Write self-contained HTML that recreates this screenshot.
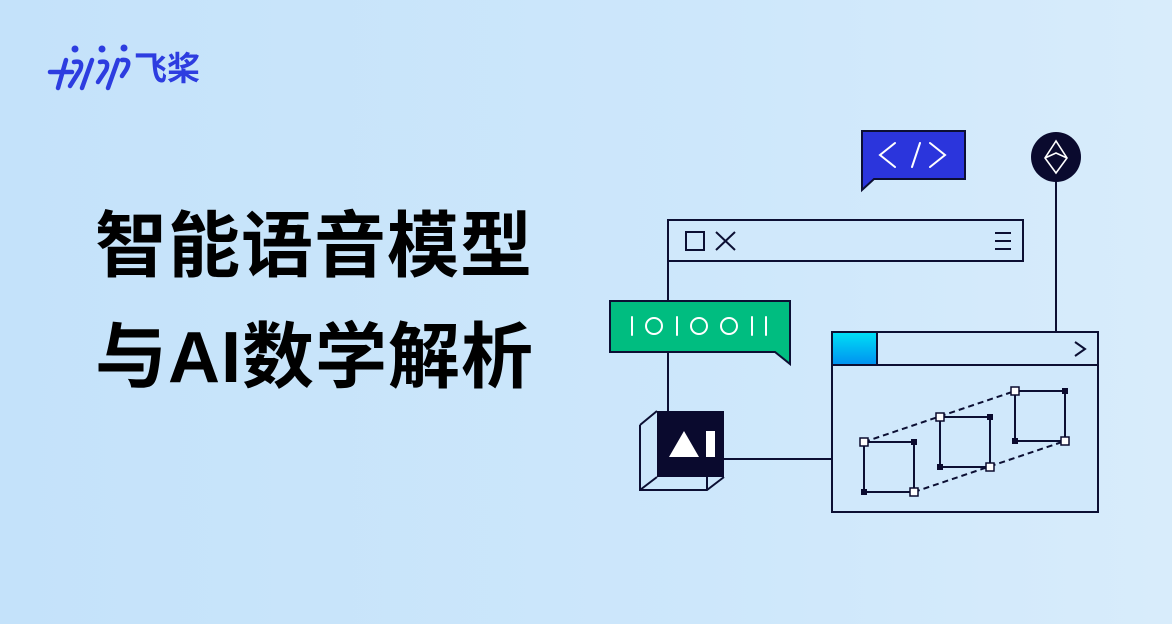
<!DOCTYPE html>
<html><head><meta charset="utf-8"><style>
html,body{margin:0;padding:0}
body{width:1172px;height:624px;overflow:hidden;position:relative;background:linear-gradient(90deg,#c4e2fa 0%,#cde7fb 60%,#d8ecfb 100%);font-family:"Liberation Sans","Noto Sans CJK SC",sans-serif}
.t{position:absolute;left:95px;font-size:72px;font-weight:bold;color:#000;line-height:1;white-space:nowrap;letter-spacing:1px}
.logo{position:absolute;left:134px;top:52px;font-size:33px;font-weight:bold;color:#2d3de0;line-height:1}
</style></head><body>
<svg style="position:absolute;left:46px;top:42px" width="90" height="52" viewBox="0 0 90 52">
<g stroke="#2d3de0" stroke-width="4.5" fill="none" stroke-linecap="round">
<path d="M4 30 H26"/><path d="M20 18 L12 46"/>
<path d="M28 20 Q38 18 34 28 L24 44"/><path d="M46 18 L36 46"/>
<path d="M54 20 Q64 18 60 28 L52 40"/><path d="M72 18 L62 46"/>
<path d="M76 18 Q86 17 80 28 L76 34"/>
</g>
<g fill="#2d3de0"><circle cx="29" cy="7" r="3.5"/><circle cx="56" cy="7" r="3.5"/><circle cx="78" cy="6" r="3.5"/></g>
</svg>
<div class="logo">飞桨</div>
<div class="t" style="top:211px">智能语音模型</div>
<div class="t" style="top:322px">与AI数学解析</div>
<svg style="position:absolute;left:0;top:0" width="1172" height="624" viewBox="0 0 1172 624">
<defs><linearGradient id="cy" x1="0" y1="0" x2="0" y2="1"><stop offset="0" stop-color="#00e0f5"/><stop offset="1" stop-color="#0090f0"/></linearGradient></defs>
<g stroke="#0c0f33" stroke-width="2" fill="none">
<line x1="1056" y1="180" x2="1056" y2="332"/>
<line x1="668" y1="261" x2="668" y2="411"/>
<line x1="724" y1="459" x2="832" y2="459"/>
<rect x="668" y="220" width="355" height="41" fill="#d0e8fb"/>
<rect x="686" y="232" width="18" height="18"/>
<path d="M716 232 L735 250 M735 232 L716 250"/>
<path d="M995 233 H1011 M995 241 H1011 M995 249 H1011"/>
<path d="M862 131 H965 V179 H874 L862 190 Z" fill="#2b35dc"/>
<path d="M610 301 H790 V364 L775 352 H610 Z" fill="#00bd80"/>
<rect x="832" y="332" width="266" height="180" fill="#d0e8fb"/>
<line x1="832" y1="365" x2="1098" y2="365"/>
<rect x="832" y="332" width="45" height="33" fill="url(#cy)"/>
<path d="M1075 342 L1085 349 L1075 356"/>
<path d="M640 425 L657 411 M640 425 V490 H707 L724 477 M707 490 V477 M640 490 L657 477"/>
<rect x="864" y="442" width="50" height="50"/>
<rect x="940" y="417" width="50" height="50"/>
<rect x="1015" y="391" width="50" height="50"/>
<g stroke-dasharray="6 4"><line x1="864" y1="442" x2="1015" y2="391"/><line x1="914" y1="492" x2="1065" y2="441"/></g>
</g>
<rect x="657" y="411" width="67" height="66" fill="#0a0a2e"/>
<path d="M669 457 L684 431 L699 457 Z" fill="#fff"/>
<rect x="706" y="431" width="9" height="26" fill="#fff"/>
<circle cx="1056" cy="157" r="25" fill="#0a0a2e"/>
<g stroke="#fff" stroke-width="1.6" fill="none"><path d="M1056 141 L1045 158 L1056 173 L1067 158 Z M1045 158 L1056 153 L1067 158"/></g>
<g stroke="#fff" stroke-width="2" fill="none" stroke-linecap="round">
<path d="M895 143 L880 155 L895 167 M912 167 L920 143 M930 143 L945 155 L930 167"/>
<path d="M632 317 V335 M677 317 V335 M752 317 V335 M766 317 V335"/>
<circle cx="654" cy="326" r="8"/><circle cx="699" cy="326" r="8"/><circle cx="729" cy="326" r="8"/>
</g>
<g fill="#0a0a2e"><rect x="911" y="439" width="6" height="6"/><rect x="861" y="489" width="6" height="6"/><rect x="987" y="414" width="6" height="6"/><rect x="937" y="464" width="6" height="6"/><rect x="1062" y="388" width="6" height="6"/><rect x="1012" y="438" width="6" height="6"/></g>
<g fill="#fff" stroke="#0a0a2e" stroke-width="1.5"><rect x="860" y="438" width="8" height="8"/><rect x="910" y="488" width="8" height="8"/><rect x="936" y="413" width="8" height="8"/><rect x="986" y="463" width="8" height="8"/><rect x="1011" y="387" width="8" height="8"/><rect x="1061" y="437" width="8" height="8"/></g>
</svg>
</body></html>
